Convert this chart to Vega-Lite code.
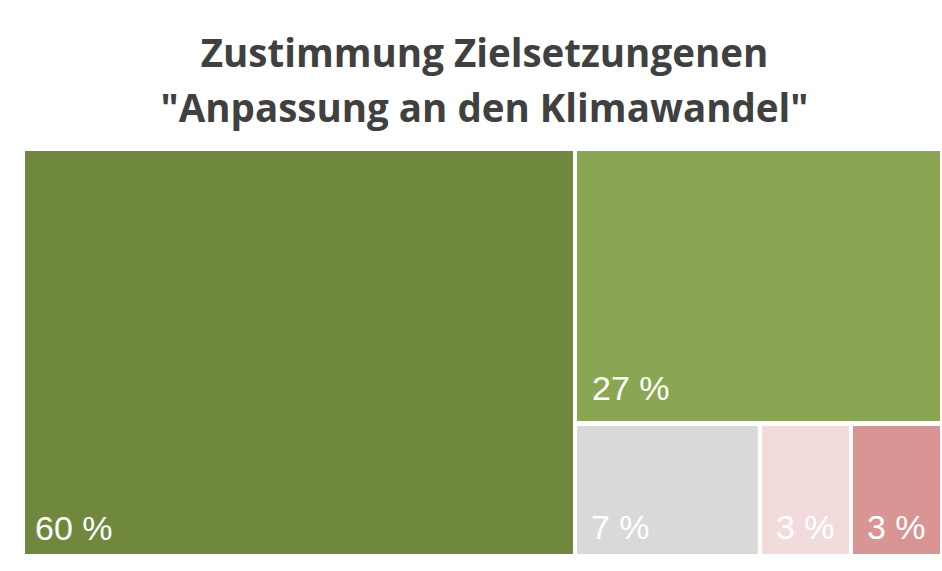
{
  "$schema": "https://vega.github.io/schema/vega-lite/v6.json",
  "background": "white",
  "padding": {"left": 25, "top": 35, "right": 0, "bottom": 0},
  "title": {
    "text": ["Zustimmung Zielsetzungenen", "\"Anpassung an den Klimawandel\""],
    "font": "Open Sans",
    "fontSize": 38.5,
    "fontWeight": "bold",
    "color": "#404040",
    "lineHeight": 55,
    "anchor": "middle",
    "offset": 21
  },
  "datasets": {
    "tiles": [
      {"category": "stimme voll zu", "panel": "left", "order": 1, "value": 60, "label": "60 %"},
      {"category": "stimme eher zu", "panel": "top", "order": 2, "value": 27, "label": "27 %"},
      {"category": "weder noch", "panel": "bottom", "order": 3, "value": 6.5, "label": "7 %"},
      {"category": "stimme eher nicht zu", "panel": "bottom", "order": 4, "value": 3.2, "label": "3 %"},
      {"category": "stimme nicht zu", "panel": "bottom", "order": 5, "value": 3.2, "label": "3 %"}
    ]
  },
  "data": {"name": "tiles"},
  "spacing": 4,
  "hconcat": [
    {
      "width": 548,
      "height": 403,
      "transform": [
        {"filter": "datum.panel === 'left'"},
        {"stack": "value", "groupby": [], "sort": [{"field": "order", "order": "ascending"}], "offset": "normalize", "as": ["x0", "x1"]}
      ],
      "layer": [
        {
          "mark": {"type": "rect", "y": 0, "y2": "height"},
          "encoding": {
            "x": {"field": "x0", "type": "quantitative", "scale": {"domain": [0, 1]}, "axis": null},
            "x2": {"field": "x1"},
            "color": {
              "field": "category", "type": "nominal", "legend": null,
              "scale": {
                "domain": ["stimme voll zu", "stimme eher zu", "weder noch", "stimme eher nicht zu", "stimme nicht zu"],
                "range": ["#70883e", "#8ba652", "#d9d9d9", "#f2dcdb", "#d99594"]
              }
            }
          }
        },
        {
          "mark": {"type": "text", "y": "height", "dy": -14, "dx": 10, "align": "left", "baseline": "alphabetic", "font": "Liberation Sans", "fontSize": 34, "color": "white"},
          "encoding": {
            "x": {"field": "x0", "type": "quantitative"},
            "text": {"field": "label"}
          }
        }
      ]
    },
    {
      "spacing": 5,
      "vconcat": [
        {
          "width": 363,
          "height": 270,
          "transform": [
            {"filter": "datum.panel === 'top'"},
            {"stack": "value", "groupby": [], "sort": [{"field": "order", "order": "ascending"}], "offset": "normalize", "as": ["x0", "x1"]}
          ],
          "layer": [
            {
              "mark": {"type": "rect", "y": 0, "y2": "height"},
              "encoding": {
                "x": {"field": "x0", "type": "quantitative", "scale": {"domain": [0, 1]}, "axis": null},
                "x2": {"field": "x1"},
                "color": {
                  "field": "category", "type": "nominal", "legend": null,
                  "scale": {
                    "domain": ["stimme voll zu", "stimme eher zu", "weder noch", "stimme eher nicht zu", "stimme nicht zu"],
                    "range": ["#70883e", "#8ba652", "#d9d9d9", "#f2dcdb", "#d99594"]
                  }
                }
              }
            },
            {
              "mark": {"type": "text", "y": "height", "dy": -21, "dx": 15, "align": "left", "baseline": "alphabetic", "font": "Liberation Sans", "fontSize": 34, "color": "white"},
              "encoding": {
                "x": {"field": "x0", "type": "quantitative"},
                "text": {"field": "label"}
              }
            }
          ]
        },
        {
          "width": 367,
          "height": 128,
          "transform": [
            {"filter": "datum.panel === 'bottom'"},
            {"stack": "value", "groupby": [], "sort": [{"field": "order", "order": "ascending"}], "offset": "normalize", "as": ["x0", "x1"]}
          ],
          "layer": [
            {
              "mark": {"type": "rect", "y": 0, "y2": "height", "x2Offset": -4},
              "encoding": {
                "x": {"field": "x0", "type": "quantitative", "scale": {"domain": [0, 1]}, "axis": null},
                "x2": {"field": "x1"},
                "color": {
                  "field": "category", "type": "nominal", "legend": null,
                  "scale": {
                    "domain": ["stimme voll zu", "stimme eher zu", "weder noch", "stimme eher nicht zu", "stimme nicht zu"],
                    "range": ["#70883e", "#8ba652", "#d9d9d9", "#f2dcdb", "#d99594"]
                  }
                }
              }
            },
            {
              "mark": {"type": "text", "y": "height", "dy": -15, "dx": 14, "align": "left", "baseline": "alphabetic", "font": "Liberation Sans", "fontSize": 34, "color": "white"},
              "encoding": {
                "x": {"field": "x0", "type": "quantitative"},
                "text": {"field": "label"}
              }
            }
          ]
        }
      ]
    }
  ],
  "config": {"view": {"stroke": null}}
}
